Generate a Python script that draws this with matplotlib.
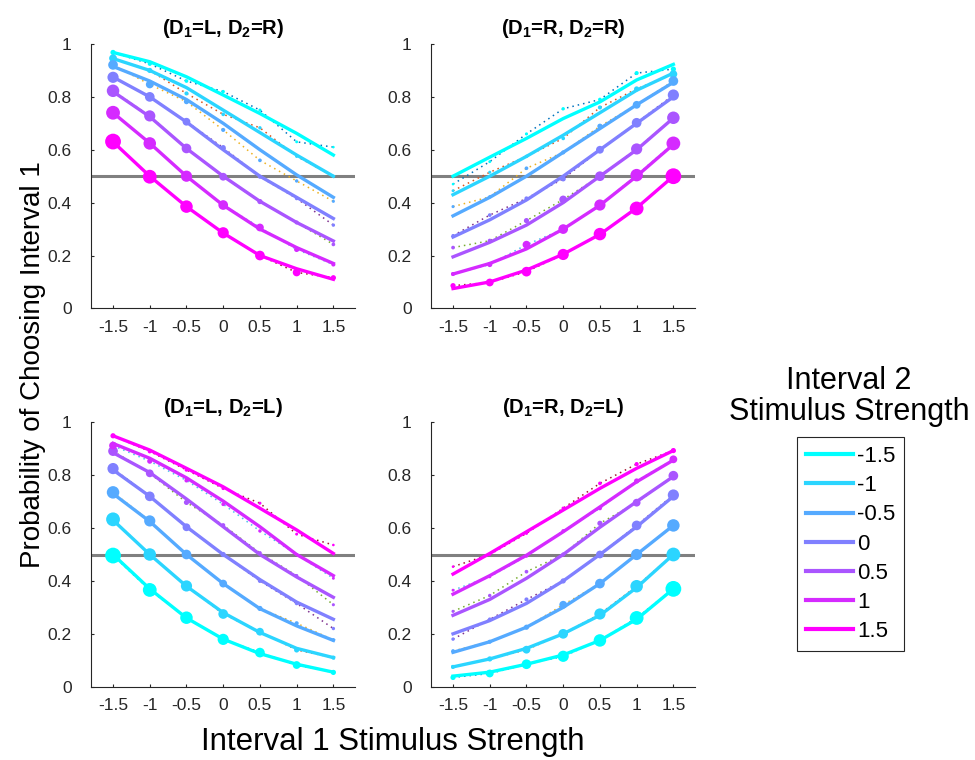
import matplotlib
matplotlib.use('Agg')
import matplotlib.pyplot as plt
from matplotlib.lines import Line2D

plt.rcParams['font.family'] = ['Liberation Sans', 'DejaVu Sans']
plt.rcParams['mathtext.fontset'] = 'custom'
plt.rcParams['mathtext.rm'] = 'Liberation Sans'
plt.rcParams['mathtext.bf'] = 'Liberation Sans:bold'
plt.rcParams['mathtext.it'] = 'Liberation Sans:italic'

# ---------------- data ----------------
x1_strength = [-1.5, -1, -0.5, 0, 0.5, 1, 1.5]
x2_strength = [-1.5, -1, -0.5, 0, 0.5, 1, 1.5]
x_tick_labels = ['-1.5', '-1', '-0.5', '0', '0.5', '1', '1.5']
y_ticks = [0, 0.2, 0.4, 0.6, 0.8, 1]
y_tick_labels = ['0', '0.2', '0.4', '0.6', '0.8', '1']
legend_labels = ['-1.5', '-1', '-0.5', '0', '0.5', '1', '1.5']

# (D1=L, D2=R)  observed proportions, one row per interval-2 strength
data_LR = [
    [0.968, 0.925, 0.860, 0.820, 0.750, 0.630, 0.610],
    [0.946, 0.900, 0.813, 0.734, 0.683, 0.575, 0.500],
    [0.921, 0.847, 0.782, 0.675, 0.560, 0.482, 0.405],
    [0.874, 0.800, 0.706, 0.608, 0.498, 0.416, 0.315],
    [0.823, 0.728, 0.605, 0.498, 0.404, 0.325, 0.242],
    [0.740, 0.624, 0.500, 0.391, 0.306, 0.223, 0.166],
    [0.631, 0.498, 0.385, 0.286, 0.200, 0.136, 0.116],
]
fit_LR = [
    [0.968, 0.933, 0.876, 0.807, 0.737, 0.662, 0.580],
    [0.945, 0.900, 0.835, 0.750, 0.665, 0.580, 0.500],
    [0.915, 0.860, 0.790, 0.700, 0.600, 0.505, 0.420],
    [0.875, 0.800, 0.705, 0.600, 0.500, 0.420, 0.340],
    [0.820, 0.725, 0.605, 0.500, 0.405, 0.325, 0.255],
    [0.740, 0.625, 0.500, 0.390, 0.300, 0.230, 0.170],
    [0.630, 0.500, 0.385, 0.285, 0.200, 0.150, 0.110],
]
# (D1=R, D2=R)
data_RR = [
    [0.470, 0.555, 0.660, 0.755, 0.790, 0.890, 0.905],
    [0.445, 0.515, 0.575, 0.643, 0.760, 0.830, 0.886],
    [0.385, 0.422, 0.530, 0.590, 0.689, 0.770, 0.860],
    [0.275, 0.353, 0.416, 0.490, 0.600, 0.702, 0.807],
    [0.230, 0.256, 0.332, 0.412, 0.500, 0.603, 0.721],
    [0.130, 0.166, 0.241, 0.300, 0.391, 0.504, 0.624],
    [0.086, 0.098, 0.139, 0.204, 0.281, 0.378, 0.500],
]
fit_RR = [
    [0.500, 0.572, 0.643, 0.718, 0.781, 0.864, 0.923],
    [0.430, 0.500, 0.575, 0.655, 0.740, 0.825, 0.890],
    [0.350, 0.420, 0.500, 0.590, 0.680, 0.770, 0.855],
    [0.270, 0.335, 0.410, 0.500, 0.600, 0.700, 0.800],
    [0.195, 0.250, 0.315, 0.400, 0.500, 0.600, 0.720],
    [0.130, 0.170, 0.225, 0.300, 0.390, 0.500, 0.620],
    [0.075, 0.100, 0.145, 0.205, 0.280, 0.380, 0.500],
]
# (D1=L, D2=L)
data_LL = [
    [0.496, 0.366, 0.261, 0.179, 0.129, 0.082, 0.054],
    [0.633, 0.500, 0.381, 0.275, 0.208, 0.139, 0.110],
    [0.735, 0.627, 0.500, 0.390, 0.296, 0.240, 0.177],
    [0.825, 0.720, 0.603, 0.500, 0.400, 0.315, 0.220],
    [0.891, 0.807, 0.697, 0.611, 0.506, 0.420, 0.310],
    [0.912, 0.853, 0.780, 0.690, 0.589, 0.500, 0.410],
    [0.949, 0.890, 0.820, 0.750, 0.694, 0.577, 0.536],
]
fit_LL = [
    [0.500, 0.370, 0.260, 0.180, 0.125, 0.085, 0.055],
    [0.630, 0.500, 0.380, 0.280, 0.205, 0.145, 0.110],
    [0.730, 0.625, 0.500, 0.390, 0.295, 0.230, 0.175],
    [0.820, 0.720, 0.605, 0.500, 0.405, 0.320, 0.255],
    [0.885, 0.810, 0.710, 0.605, 0.500, 0.415, 0.338],
    [0.920, 0.864, 0.790, 0.702, 0.605, 0.500, 0.420],
    [0.949, 0.895, 0.826, 0.756, 0.675, 0.593, 0.504],
]
# (D1=R, D2=L)
data_RL = [
    [0.035, 0.050, 0.085, 0.115, 0.175, 0.260, 0.370],
    [0.075, 0.105, 0.140, 0.200, 0.275, 0.380, 0.500],
    [0.135, 0.170, 0.225, 0.310, 0.390, 0.500, 0.610],
    [0.180, 0.255, 0.330, 0.400, 0.500, 0.610, 0.725],
    [0.285, 0.345, 0.435, 0.500, 0.618, 0.696, 0.798],
    [0.365, 0.416, 0.494, 0.589, 0.675, 0.778, 0.860],
    [0.454, 0.500, 0.580, 0.675, 0.769, 0.842, 0.893],
]
fit_RL = [
    [0.040, 0.055, 0.085, 0.120, 0.175, 0.255, 0.370],
    [0.075, 0.105, 0.145, 0.200, 0.270, 0.375, 0.500],
    [0.130, 0.170, 0.225, 0.300, 0.390, 0.500, 0.610],
    [0.200, 0.250, 0.315, 0.400, 0.500, 0.605, 0.720],
    [0.270, 0.330, 0.410, 0.500, 0.603, 0.700, 0.795],
    [0.350, 0.420, 0.497, 0.586, 0.680, 0.775, 0.857],
    [0.426, 0.504, 0.586, 0.668, 0.750, 0.826, 0.893],
]

panel_dirs = [('L', 'R'), ('R', 'R'), ('L', 'L'), ('R', 'L')]
panel_data = [data_LR, data_RR, data_LL, data_RL]
panel_fit = [fit_LR, fit_RR, fit_LL, fit_RL]

# ---------------- style ----------------
cool = [(i / 6, 1 - i / 6, 1.0) for i in range(7)]
matlab_order = [(0, 0.447, 0.741), (0.850, 0.325, 0.098), (0.929, 0.694, 0.125),
                (0.494, 0.184, 0.556), (0.466, 0.674, 0.188), (0.301, 0.745, 0.933),
                (0.635, 0.078, 0.184)]
# marker diameter (px) by signed evidence level -3 ... 3 (step 0.5)
marker_diam_px = [2.6, 2.9, 3.1, 3.4, 3.7, 4.1, 5.2, 7.8, 9.7, 11.2, 12.5, 13.8, 15.8]
axis_col = (0.15, 0.15, 0.15)

W, H = 975, 760
fig = plt.figure(figsize=(W / 100, H / 100), dpi=100)

boxes = [(91, 44), (431, 44), (91, 422.3), (431, 422.3)]  # left, top in px
side = 264.4

for k, ((lx, ty), dirs, dat, fit) in enumerate(zip(boxes, panel_dirs, panel_data, panel_fit)):
    ax = fig.add_axes([lx / W, 1 - (ty + side) / H, side / W, side / H])
    sgn1 = -1 if dirs[0] == 'L' else 1
    sgn2 = -1 if dirs[1] == 'L' else 1
    ax.axhline(0.5, color=(0.5, 0.5, 0.5), lw=2.2, zorder=1)
    for j in range(7):
        ax.plot(x1_strength, dat[j], ls=(0, (1, 2.6)), lw=1.1,
                color=matlab_order[j], zorder=2)
    for j in range(7):
        ax.plot(x1_strength, fit[j], color=cool[j], lw=2.4, zorder=3)
    for j in range(7):
        sizes = []
        for x1 in x1_strength:
            s = sgn1 * x1 + sgn2 * x2_strength[j]
            idx = int(round((s + 3) * 2))
            sizes.append((marker_diam_px[idx] * 0.72) ** 2)
        ax.scatter(x1_strength, dat[j], s=sizes, color=cool[j],
                   edgecolors='none', zorder=4)
    ax.set_xlim(-1.8, 1.8)
    ax.set_ylim(0, 1)
    ax.set_xticks(x1_strength)
    ax.set_xticklabels(x_tick_labels)
    ax.set_yticks(y_ticks)
    ax.set_yticklabels(y_tick_labels)
    for sp in ['top', 'right']:
        ax.spines[sp].set_visible(False)
    for sp in ['left', 'bottom']:
        ax.spines[sp].set_color(axis_col)
        ax.spines[sp].set_linewidth(0.8)
    ax.tick_params(axis='both', direction='in', length=2, width=0.8,
                   colors=axis_col, labelsize=12.5)
    ax.tick_params(axis='y', pad=14)
    ax.tick_params(axis='x', pad=8)
    ax.set_title('(D$_\\mathbf{1}$=%s, D$_\\mathbf{2}$=%s)' % dirs,
                 fontsize=14.5, fontweight='bold', pad=7)

fig.text(393 / W, 1 - 750 / H, 'Interval 1 Stimulus Strength', ha='center',
         va='baseline', fontsize=22.5)
fig.text(33 / W, 1 - 365 / H, 'Probability of Choosing Interval 1', ha='center',
         va='center', rotation=90, fontsize=20)

fig.text(849 / W, 1 - 389 / H, 'Interval 2', ha='center', va='baseline', fontsize=22)
fig.text(849 / W, 1 - 420 / H, 'Stimulus Strength', ha='center', va='baseline', fontsize=22)

handles = [Line2D([], [], color=cool[j], lw=3) for j in range(7)]
leg = fig.legend(handles, legend_labels, loc='upper left',
                 bbox_to_anchor=(797 / W, 1 - 437 / H), borderaxespad=0,
                 fontsize=16, frameon=True, fancybox=False, edgecolor=axis_col,
                 framealpha=1, handlelength=2.1, handletextpad=0.2,
                 borderpad=0.4, labelspacing=0.37)
leg.get_frame().set_linewidth(0.8)

fig.savefig('out.png', dpi=100)
